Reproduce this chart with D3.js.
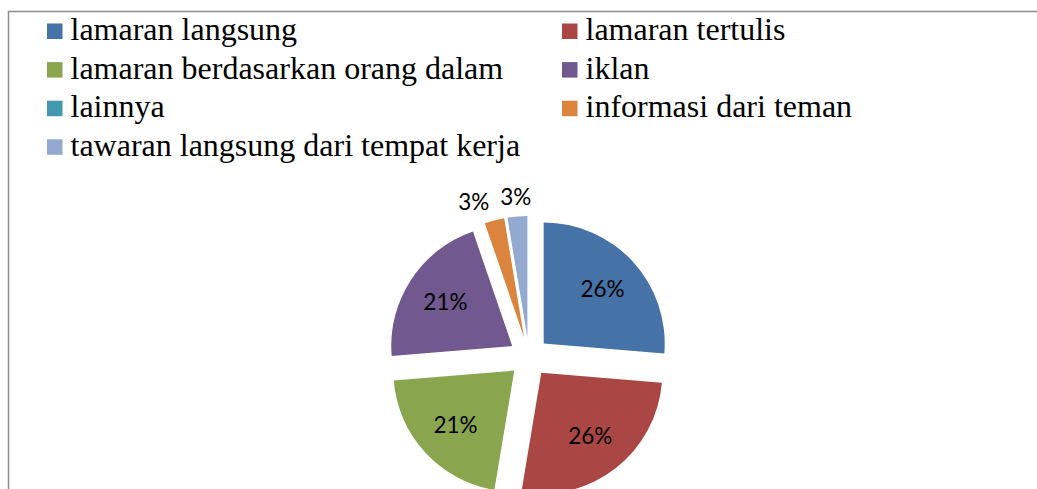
<!DOCTYPE html>
<html lang="id">
<head>
  <meta charset="UTF-8">
  <title>Pie</title>
  <script src="https://d3js.org/d3.v7.min.js"></script>
  <style>
    html, body { margin: 0; padding: 0; background: #fff; overflow: hidden; }
  </style>
</head>
<body>
  <div id="root"></div>
  <script>
    const categories = [
      'lamaran langsung',
      'lamaran tertulis',
      'lamaran berdasarkan orang dalam',
      'iklan',
      'lainnya',
      'informasi dari teman',
      'tawaran langsung dari tempat kerja'
    ]
    const values = [10, 10, 8, 8, 0, 1, 1]
    const colors = ['#4572A7', '#AA4643', '#89A54E', '#71588F', '#4198AF', '#DB843D', '#93A9CF']

    const width = 1037
    const height = 489
    const center = { x: 529, y: 357 }
    const radius = 121
    const explode = 20

    const svg = d3.select('#root')
      .append('svg')
        .attr('width', width)
        .attr('height', height)

    // frame (only top and left are visible)
    svg.append('path')
      .attr('d', `M8.5 ${height} V11.5 H${width}`)
      .attr('fill', 'none')
      .attr('stroke', '#8c8c8c')
      .attr('stroke-width', 1.5)

    // legend
    const colX = [47, 562]
    const rowY = i => 40 + Math.floor(i / 2) * 38.6

    svg.selectAll('rect.key')
      .data(categories)
      .join('rect')
      .attr('class', 'key')
      .attr('x', (d, i) => colX[i % 2])
      .attr('y', (d, i) => rowY(i) - 16.5)
      .attr('width', 15.5)
      .attr('height', 15.5)
      .attr('fill', (d, i) => colors[i])

    svg.selectAll('text.key')
      .data(categories)
      .join('text')
      .attr('class', 'key')
      .attr('x', (d, i) => colX[i % 2] + 23.5)
      .attr('y', (d, i) => rowY(i))
      .style('font-family', '"Liberation Serif"')
      .style('font-size', '32px')
      .style('fill', '#000')
      .text(d => d)

    // pie
    const total = d3.sum(values)
    const pie = d3.pie().sort(null).value(d => d)
    const arcs = pie(values)
    const arc = d3.arc().innerRadius(0).outerRadius(radius)
    const labelArc = d3.arc().innerRadius(radius * 0.66 * 2).outerRadius(0)
    const outArc = d3.arc().innerRadius(160 * 2).outerRadius(0)

    const offset = d => {
      const a = (d.startAngle + d.endAngle) / 2
      return [Math.sin(a) * explode, -Math.cos(a) * explode]
    }

    const pieG = svg.append('g')
      .attr('transform', `translate(${center.x}, ${center.y})`)

    pieG.selectAll('path')
      .data(arcs)
      .join('path')
      .attr('transform', d => `translate(${offset(d)})`)
      .attr('d', arc)
      .attr('fill', (d, i) => colors[i])

    // labels: inside for big slices, outside for thin ones
    const labels = arcs.filter(d => d.value > 0).map(d => {
      const share = d.value / total
      const inside = share > 0.1
      const [ox, oy] = offset(d)
      const [cx, cy] = inside ? labelArc.centroid(d) : outArc.centroid(d)
      return { text: Math.round(share * 100) + '%', x: cx + (inside ? ox : 0), y: cy + (inside ? oy : 0), inside }
    })
    // push overlapping outside labels apart
    const outside = labels.filter(l => !l.inside).sort((a, b) => a.x - b.x)
    for (let i = 1; i < outside.length; i++) {
      const gap = outside[i].x - outside[i - 1].x
      if (gap < 42) outside[i - 1].x -= 42 - gap
    }

    pieG.selectAll('text')
      .data(labels)
      .join('text')
      .attr('x', d => d.x)
      .attr('y', d => d.y)
      .attr('dy', '0.35em')
      .attr('text-anchor', 'middle')
      .style('font-family', 'Lato')
      .style('font-size', '22.5px')
      .style('fill', '#000')
      .text(d => d.text)
  </script>
</body>
</html>
